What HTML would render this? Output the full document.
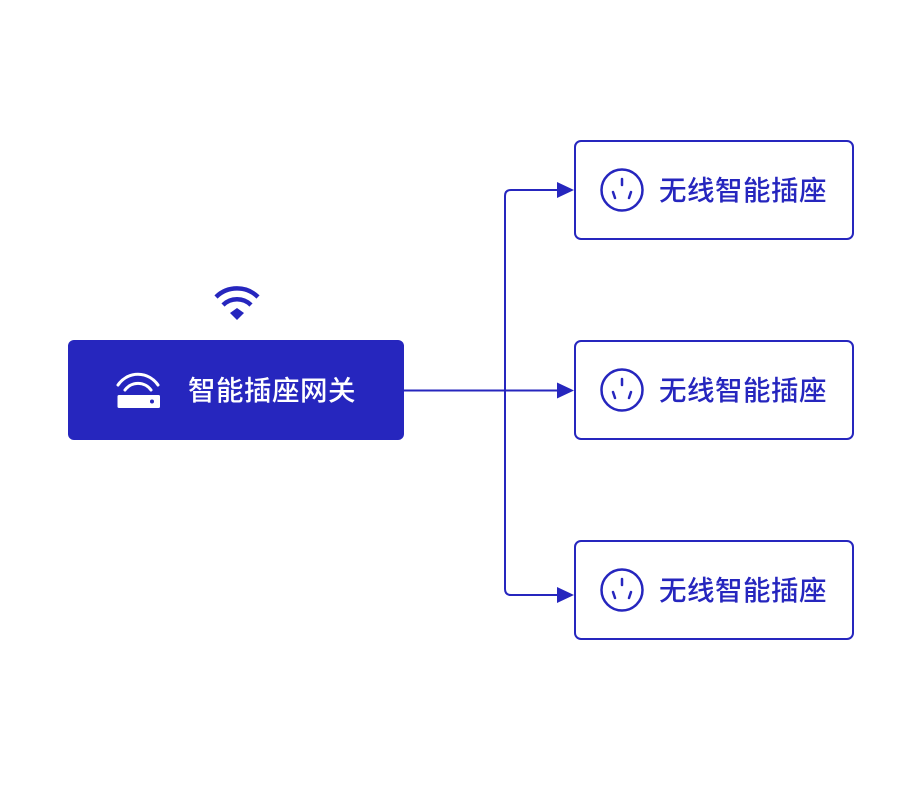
<!DOCTYPE html>
<html><head><meta charset="utf-8"><style>
html,body{margin:0;padding:0;background:#fff;}
svg text{font-family:"Liberation Sans","Noto Sans CJK SC",sans-serif;font-weight:500;}
</style></head><body>
<svg width="920" height="780" viewBox="0 0 920 780" xmlns="http://www.w3.org/2000/svg">
<g fill="none" stroke="#2626BE" stroke-width="2">
<path d="M404 390.5 H558"/>
<path d="M558 190 H511 Q505 190 505 196 V589 Q505 595 511 595 H558"/>
</g>
<g fill="#2626BE">
<path d="M574 190 L557 182 L557 198 Z"/>
<path d="M574 390.5 L557 382.5 L557 398.5 Z"/>
<path d="M574 595 L557 587 L557 603 Z"/>
</g>
<g fill="none" stroke="#2626BE" stroke-width="4.5">
<path d="M216 297 A30 30 0 0 1 258 297"/>
<path d="M223 305 A20 20 0 0 1 251 305"/>
</g>
<path d="M230 313 L237 308 L244 313 L237 320 Z" fill="#2626BE"/>
<rect x="68" y="340" width="336" height="100" rx="6" fill="#2626BE"/>
<g fill="none" stroke="#fff" stroke-width="3" stroke-linecap="round">
<path d="M118 385 A24 24 0 0 1 158 385"/>
<path d="M125 390 A16 16 0 0 1 151 390"/>
</g>
<rect x="117.5" y="395" width="42.5" height="13" rx="1.5" fill="#fff"/>
<circle cx="152" cy="401.5" r="2" fill="#2626BE"/>
<text x="188" y="400" font-size="27.5" fill="#fff" letter-spacing="0.5">智能插座网关</text>
<g id="s">
<rect x="575" y="141" width="278" height="98" rx="6" fill="#fff" stroke="#2626BE" stroke-width="2"/>
<circle cx="622" cy="190" r="20.5" fill="none" stroke="#2626BE" stroke-width="2.5"/>
<g stroke="#2626BE" stroke-width="2.5" stroke-linecap="round">
<path d="M622 179 V185"/><path d="M613 192 L615 198"/><path d="M631 192 L629 198"/>
</g>
<text x="659" y="200" font-size="27.5" fill="#2626BE" letter-spacing="0.5">无线智能插座</text>
</g>
<use href="#s" y="200"/>
<use href="#s" y="400"/>
</svg>
</body></html>
